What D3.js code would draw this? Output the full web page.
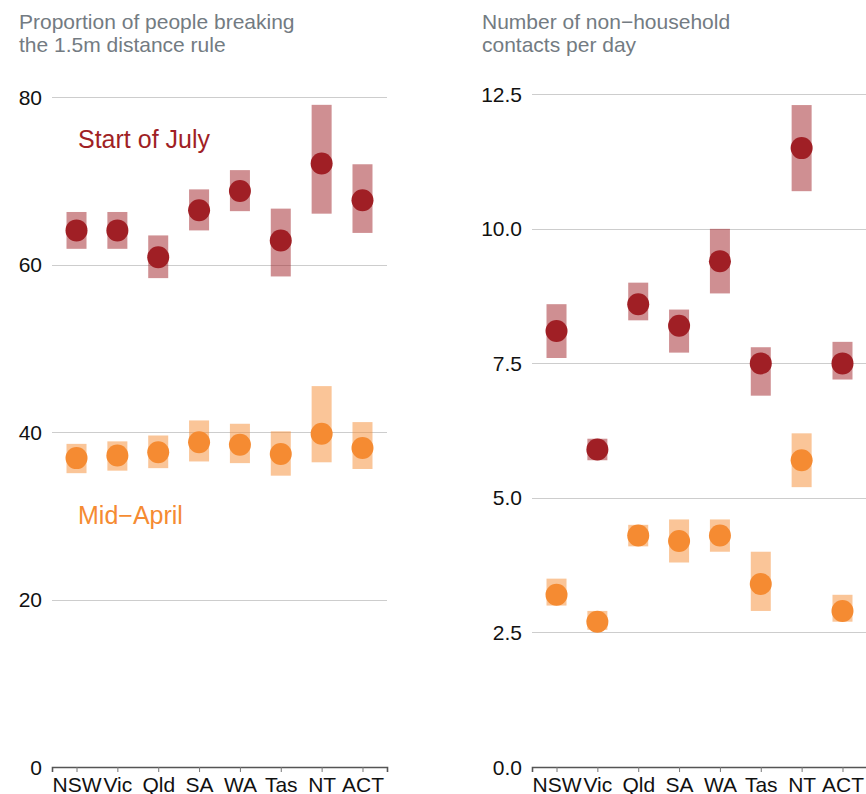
<!DOCTYPE html>
<html>
<head>
<meta charset="utf-8">
<script src="https://cdn.jsdelivr.net/npm/d3@7"></script>
<style>
  body { margin: 0; background: #fff; }
  svg { display: block; font-family: "Liberation Sans", Arial, Helvetica, sans-serif; }
</style>
</head>
<body>
<div id="container"></div>
<script>
var width = 866,
    height = 794;

// states along the x axis
var states = ["NSW", "Vic", "Qld", "SA", "WA", "Tas", "NT", "ACT"];

// proportion breaking the 1.5m rule (%)
var distJuly    = [64.1, 64.1, 60.9, 66.5, 68.8, 62.9, 72.1, 67.7];
var distJulyLo  = [61.9, 61.9, 58.4, 64.1, 66.4, 58.6, 66.1, 63.8];
var distJulyHi  = [66.3, 66.3, 63.5, 69.0, 71.3, 66.7, 79.1, 72.0];
var distApril   = [36.9, 37.2, 37.6, 38.8, 38.5, 37.4, 39.8, 38.1];
var distAprilLo = [35.1, 35.4, 35.7, 36.5, 36.3, 34.8, 36.4, 35.6];
var distAprilHi = [38.6, 38.9, 39.6, 41.4, 41.0, 40.1, 45.5, 41.2];

// non-household contacts per day
var contJuly    = [8.1, 5.9, 8.6, 8.2, 9.4, 7.5, 11.5, 7.5];
var contJulyLo  = [7.6, 5.7, 8.3, 7.7, 8.8, 6.9, 10.7, 7.2];
var contJulyHi  = [8.6, 6.1, 9.0, 8.5, 10.0, 7.8, 12.3, 7.9];
var contApril   = [3.2, 2.7, 4.3, 4.2, 4.3, 3.4, 5.7, 2.9];
var contAprilLo = [3.0, 2.55, 4.1, 3.8, 4.0, 2.9, 5.2, 2.7];
var contAprilHi = [3.5, 2.9, 4.5, 4.6, 4.6, 4.0, 6.2, 3.2];

var distTicks = [0, 20, 40, 60, 80];
var contTicks = [0, 2.5, 5, 7.5, 10, 12.5];

var red = "#a01f25",
    orange = "#f58b32";

var svg = d3.select("div#container")
    .append("svg")
    .attr("width", width)
    .attr("height", height);

function series(vals, lo, hi) {
    return states.map(function (s, i) {
        return {state: s, v: vals[i], lo: lo[i], hi: hi[i]};
    });
}

function drawPanel(opt) {
    var g = svg.append("g");

    var x = d3.scalePoint().domain(states).range([opt.x0, opt.x0 + 335]).padding(0.6);
    var y = d3.scaleLinear().domain(opt.domain).range([767, opt.top]);

    // title
    g.append("text")
        .attr("x", opt.titleX)
        .attr("y", 29)
        .attr("fill", "#737b82")
        .style("font-size", "21px")
        .selectAll("tspan")
        .data(opt.title)
        .enter().append("tspan")
        .attr("x", opt.titleX)
        .attr("dy", function (d, i) { return i === 0 ? 0 : 22.5 })
        .text(function (d) { return d });

    // gridlines
    g.selectAll(".grid")
        .data(opt.ticks.slice(1))
        .enter().append("line")
        .attr("x1", opt.x0)
        .attr("x2", opt.x0 + 335)
        .attr("y1", function (d) { return Math.round(y(d)) + 0.5 })
        .attr("y2", function (d) { return Math.round(y(d)) + 0.5 })
        .attr("stroke", "#cdcdcd")
        .attr("stroke-width", 1);

    // y tick labels
    g.selectAll(".ylab")
        .data(opt.ticks)
        .enter().append("text")
        .attr("x", opt.x0 - 10)
        .attr("y", function (d) { return y(d) })
        .attr("dy", "0.36em")
        .attr("text-anchor", "end")
        .attr("fill", "#111")
        .style("font-size", "21px")
        .text(opt.fmt);

    // x axis
    var xAxis = g.append("g")
        .attr("transform", "translate(0," + Math.round(y(0)) + ")")
        .call(d3.axisBottom(x).tickSize(5).tickPadding(5));
    xAxis.select(".domain").attr("stroke", "#555").attr("stroke-width", 1.6);
    xAxis.selectAll(".tick line").attr("stroke", "#777");
    xAxis.selectAll(".tick text")
        .attr("fill", "#111")
        .style("font-size", "21px")
        .style("font-family", "'Liberation Sans', Arial, sans-serif");

    opt.groups.forEach(function (grp) {
        g.selectAll(null)
            .data(grp.data)
            .enter().append("rect")
            .attr("x", function (d) { return x(d.state) - 10 })
            .attr("width", 20)
            .attr("y", function (d) { return y(d.hi) })
            .attr("height", function (d) { return y(d.lo) - y(d.hi) })
            .attr("fill", grp.color)
            .attr("fill-opacity", 0.5);

        g.selectAll(null)
            .data(grp.data)
            .enter().append("circle")
            .attr("cx", function (d) { return x(d.state) })
            .attr("cy", function (d) { return y(d.v) })
            .attr("r", 11)
            .attr("fill", grp.color);
    });

    return {x: x, y: y, g: g};
}

var left = drawPanel({
    x0: 52,
    top: 97.3,
    titleX: 19,
    title: ["Proportion of people breaking", "the 1.5m distance rule"],
    domain: [0, 80],
    ticks: distTicks,
    fmt: function (d) { return d },
    groups: [
        {color: orange, data: series(distApril, distAprilLo, distAprilHi)},
        {color: red, data: series(distJuly, distJulyLo, distJulyHi)}
    ]
});

drawPanel({
    x0: 532,
    top: 94.3,
    titleX: 482,
    title: ["Number of non\u2212household", "contacts per day"],
    domain: [0, 12.5],
    ticks: contTicks,
    fmt: d3.format(".1f"),
    groups: [
        {color: orange, data: series(contApril, contAprilLo, contAprilHi)},
        {color: red, data: series(contJuly, contJulyLo, contJulyHi)}
    ]
});

// series labels
left.g.append("text")
    .attr("x", 78)
    .attr("y", left.y(74))
    .attr("fill", red)
    .style("font-size", "25px")
    .text("Start of July");

left.g.append("text")
    .attr("x", 78)
    .attr("y", left.y(29))
    .attr("fill", orange)
    .style("font-size", "25px")
    .text("Mid\u2212April");
</script>
</body>
</html>
